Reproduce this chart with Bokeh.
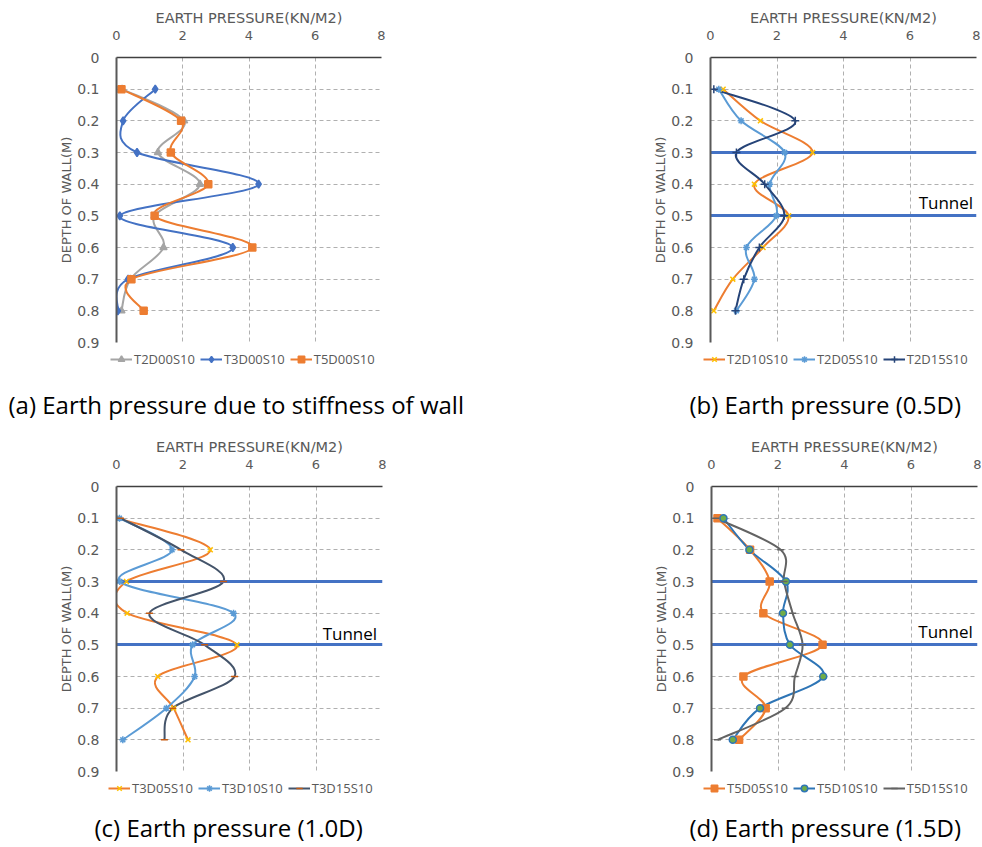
import numpy as np
from bokeh.plotting import figure
from bokeh.models import Range1d, Legend, LegendItem, Label, ColumnDataSource
from bokeh.layouts import row, column
from bokeh.embed import file_html
from bokeh.resources import INLINE

# ---------------- data ----------------
depth = [0.1, 0.2, 0.3, 0.4, 0.5, 0.6, 0.7, 0.8]
x_ticks = [0, 2, 4, 6, 8]
y_ticks = [0.0, 0.1, 0.2, 0.3, 0.4, 0.5, 0.6, 0.7, 0.8, 0.9]
y_tick_labels = ["0", "0.1", "0.2", "0.3", "0.4", "0.5", "0.6", "0.7", "0.8", "0.9"]
tunnel_depths = [0.3, 0.5]

x_title = "EARTH PRESSURE(KN/M2)"
y_title = "DEPTH OF WALL(M)"

# panel (a)
T2D00S10 = [0.17, 2.04, 1.25, 2.52, 1.15, 1.42, 0.42, 0.15]
T3D00S10 = [1.17, 0.20, 0.62, 4.29, 0.10, 3.51, 0.35, 0.04]
T5D00S10 = [0.15, 1.95, 1.64, 2.77, 1.15, 4.10, 0.45, 0.82]
# panel (b)
T2D10S10 = [0.38, 1.50, 3.07, 1.32, 2.35, 1.58, 0.67, 0.10]
T2D05S10 = [0.25, 0.92, 2.23, 1.78, 1.98, 1.08, 1.32, 0.78]
T2D15S10 = [0.10, 2.55, 0.78, 1.63, 2.22, 1.47, 1.00, 0.75]
# panel (c)
T3D05S10 = [0.02, 2.82, 0.30, 0.32, 3.62, 1.24, 1.72, 2.15]
T3D10S10 = [0.09, 1.67, 0.10, 3.52, 2.29, 2.35, 1.50, 0.19]
T3D15S10 = [0.12, 1.94, 3.22, 0.99, 2.65, 3.55, 1.69, 1.44]
# panel (d)
T5D05S10 = [0.18, 1.16, 1.75, 1.56, 3.34, 0.96, 1.63, 0.83]
T5D10S10 = [0.36, 1.14, 2.24, 2.15, 2.36, 3.36, 1.46, 0.64]
T5D15S10 = [0.13, 2.08, 2.18, 2.44, 2.74, 2.51, 2.22, 0.18]

captions = ["(a) Earth pressure due to stiffness of wall",
            "(b) Earth pressure (0.5D)",
            "(c) Earth pressure (1.0D)",
            "(d) Earth pressure (1.5D)"]

# ---------------- helpers ----------------
def smooth_ctrl(xs, ys, t=1.0 / 6.0):
    X = np.asarray(xs, float)
    Y = np.asarray(ys, float)
    n = len(X)
    Xp = np.concatenate([[X[0]], X, [X[-1]]])
    Yp = np.concatenate([[Y[0]], Y, [Y[-1]]])
    return dict(
        x0=X[:-1], y0=Y[:-1], x1=X[1:], y1=Y[1:],
        cx0=X[:-1] + (Xp[2:n + 1] - Xp[0:n - 1]) * t,
        cy0=Y[:-1] + (Yp[2:n + 1] - Yp[0:n - 1]) * t,
        cx1=X[1:] - (Xp[3:n + 2] - Xp[1:n]) * t,
        cy1=Y[1:] - (Yp[3:n + 2] - Yp[1:n]) * t,
    )


def make_panel(series, width, bl, fw, tunnel):
    bt, fh, bb = 57, 285, 10
    p = figure(frame_width=fw, frame_height=fh,
               x_range=Range1d(0, 8), y_range=Range1d(0.9, 0),
               x_axis_location="above",
               output_backend="svg", toolbar_location=None,
               min_border_left=bl, min_border_right=width - bl - fw,
               min_border_top=bt, min_border_bottom=bb,
               outline_line_color=None, background_fill_color="white",
               border_fill_color="white")
    p.xaxis.ticker = x_ticks
    p.yaxis.ticker = y_ticks
    p.yaxis.major_label_overrides = dict(zip(y_ticks, y_tick_labels))
    for ax in (p.xaxis[0], p.yaxis[0]):
        ax.major_tick_line_color = None
        ax.minor_tick_line_color = None
        ax.major_label_text_color = "#595959"
        ax.major_label_text_font = "DejaVu Sans"
        ax.axis_label_text_color = "#595959"
        ax.axis_label_text_font = "DejaVu Sans"
        ax.axis_label_text_font_style = "normal"
    p.xaxis.axis_label = x_title
    p.yaxis.axis_label = y_title
    p.xaxis.axis_label_text_font_size = "14.5px"
    p.yaxis.axis_label_text_font_size = "13px"
    p.xaxis.major_label_text_font_size = "13px"
    p.yaxis.major_label_text_font_size = "14px"
    p.xaxis.major_label_standoff = 12
    p.yaxis.major_label_standoff = 11
    p.xaxis.axis_label_standoff = 2
    p.yaxis.axis_label_standoff = 0
    p.xaxis.axis_line_color = "#404040"
    p.xaxis.axis_line_width = 1.5
    p.yaxis.axis_line_color = "#595959"
    p.yaxis.axis_line_width = 2
    for g in (p.xgrid[0], p.ygrid[0]):
        g.grid_line_color = "#b0b0b0"
        g.grid_line_dash = "4 3"
        g.grid_line_width = 1

    curves = []
    for name, vals, lc, marker, mfill, mline, msize in series:
        src = ColumnDataSource(smooth_ctrl(vals, depth))
        p.bezier(x0="x0", y0="y0", x1="x1", y1="y1",
                 cx0="cx0", cy0="cy0", cx1="cx1", cy1="cy1",
                 source=src, line_color=lc, line_width=2)
        curves.append((vals, marker, mfill, mline, msize))
    if tunnel:
        p.hspan(y=tunnel_depths, line_color="#4472C4", line_width=3)
        p.add_layout(Label(x=tunnel[0], y=tunnel[1], text="Tunnel",
                           text_baseline="middle", text_font="Open Sans",
                           text_font_size="17px", text_color="#000000"))
    for vals, marker, mfill, mline, msize in curves:
        p.scatter(vals, depth, marker=marker, size=msize,
                  fill_color=mfill, line_color=mline, line_width=1.5)
    return p


def make_footer(series, width, height, leg_x, leg_y, caption, cap_x, cap_y):
    # strip under a panel holding its legend and caption; the series are
    # plotted again here only as legend keys, outside this strip's ranges
    f = figure(frame_width=width, frame_height=height,
               x_range=Range1d(-20, -19), y_range=Range1d(-20, -19),
               output_backend="svg", toolbar_location=None,
               min_border=0, min_border_left=0, min_border_right=0,
               min_border_top=0, min_border_bottom=0,
               outline_line_color=None, background_fill_color="white",
               border_fill_color="white")
    f.axis.visible = False
    f.grid.visible = False
    items = []
    for name, vals, lc, marker, mfill, mline, msize in series:
        rl = f.line(vals, depth, line_color=lc, line_width=2)
        rs = f.scatter(vals, depth, marker=marker, size=msize,
                       fill_color=mfill, line_color=mline, line_width=1.5)
        items.append(LegendItem(label=name, renderers=[rl, rs]))
    leg = Legend(items=items, orientation="horizontal", location=(leg_x, leg_y),
                 label_text_font="Open Sans", label_text_font_size="13px",
                 label_text_color="#595959", glyph_width=22, glyph_height=16,
                 label_height=16, label_standoff=2, spacing=5, padding=0, margin=0,
                 border_line_color=None, background_fill_alpha=0)
    f.add_layout(leg)
    f.add_layout(Label(x=cap_x, y=cap_y, x_units="screen", y_units="screen",
                       text=caption, text_baseline="middle", text_align="left",
                       text_font="Open Sans", text_font_size="24px",
                       text_color="#000000"))
    return f


orange, blue, gray = "#ED7D31", "#4472C4", "#A5A5A5"
lblue, navy, yellow = "#5B9BD5", "#264478", "#FFC000"

ser_a = [("T2D00S10", T2D00S10, gray, "triangle", gray, gray, 7),
         ("T3D00S10", T3D00S10, blue, "diamond", blue, blue, 8),
         ("T5D00S10", T5D00S10, orange, "square", orange, orange, 7)]
ser_b = [("T2D10S10", T2D10S10, orange, "x", yellow, yellow, 7),
         ("T2D05S10", T2D05S10, lblue, "asterisk", lblue, lblue, 7),
         ("T2D15S10", T2D15S10, navy, "cross", navy, navy, 8)]
ser_c = [("T3D05S10", T3D05S10, orange, "x", yellow, yellow, 7),
         ("T3D10S10", T3D10S10, lblue, "asterisk", lblue, lblue, 7),
         ("T3D15S10", T3D15S10, "#44546A", "dash", "#C55A11", "#C55A11", 7)]
ser_d = [("T5D05S10", T5D05S10, orange, "square", orange, orange, 7),
         ("T5D10S10", T5D10S10, "#2E75B6", "circle", "#70AD47", "#2E75B6", 7),
         ("T5D15S10", T5D15S10, "#636363", "dash", "#636363", "#636363", 7)]

pa = make_panel(ser_a, 491, 116, 265, None)
pb = make_panel(ser_b, 490, 219, 266, (6.26, 0.459))
pc = make_panel(ser_c, 491, 116, 266, (6.2, 0.465))
pd_ = make_panel(ser_d, 490, 220, 266, (6.22, 0.458))

fa = make_footer(ser_a, 491, 77, 110, 61, captions[0], 8, 25)
fb = make_footer(ser_b, 490, 77, 212, 61, captions[1], 198, 25)
fc = make_footer(ser_c, 491, 64, 108, 48, captions[2], 94, 18)
fd = make_footer(ser_d, 490, 64, 212, 48, captions[3], 198, 18)

layout = column(row(pa, pb, spacing=0), row(fa, fb, spacing=0),
                row(pc, pd_, spacing=0), row(fc, fd, spacing=0), spacing=0)

open("out.html", "w").write(file_html(layout, INLINE))
